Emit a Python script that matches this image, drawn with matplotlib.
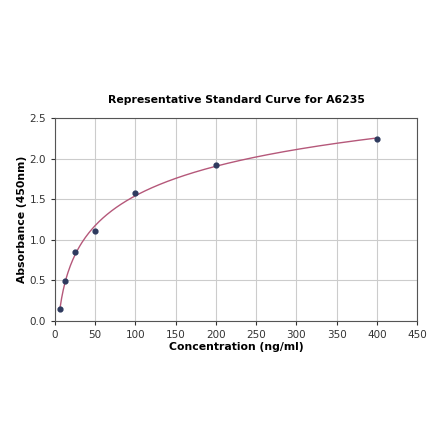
import numpy as np
import matplotlib
matplotlib.use("Agg")
import matplotlib.pyplot as plt

concentration = [6.25, 12.5, 25, 50, 100, 200, 400]
absorbance = [0.148, 0.496, 0.846, 1.108, 1.573, 1.925, 2.245]

title = "Representative Standard Curve for A6235"
xlabel = "Concentration (ng/ml)"
ylabel = "Absorbance (450nm)"

x = np.array(concentration, float)
y = np.array(absorbance, float)

def f4(p, xx):
    a, b, c, d = p
    return d + (a - d) / (1.0 + (xx / c) ** b)

# Levenberg-Marquardt fit of a 4PL curve
p = np.array([0.0, 1.0, 80.0, 3.0])
lam = 1e-2
def resid(p):
    return f4(p, x) - y
for _ in range(2000):
    r = resid(p)
    J = np.zeros((len(x), 4))
    for k in range(4):
        dp = np.zeros(4); h = 1e-6 * max(1.0, abs(p[k])); dp[k] = h
        J[:, k] = (resid(p + dp) - r) / h
    A = J.T @ J
    g = J.T @ r
    step = np.linalg.solve(A + lam * np.diag(np.diag(A) + 1e-12), -g)
    pn = p + step
    if pn[2] > 0 and np.sum(resid(pn) ** 2) < np.sum(r ** 2):
        p = pn; lam *= 0.5
    else:
        lam *= 3
xs = np.linspace(x.min(), x.max(), 400)
ys = f4(p, xs)

fig = plt.figure(figsize=(4.4, 4.41), dpi=100)
ax = fig.add_axes([0.125, 0.272, 0.823, 0.460])
ax.plot(xs, ys, color="#b5587a", lw=1.0, zorder=2)
ax.scatter(x, y, s=12, color="#2e3a5e", zorder=3)
ax.set_xlim(0, 450)
ax.set_ylim(0, 2.5)
ax.set_xticks(np.arange(0, 451, 50))
ax.set_yticks(np.arange(0, 2.51, 0.5))
ax.grid(True, color="#cccccc", lw=0.8)
ax.set_axisbelow(True)
ax.tick_params(labelsize=7.5, colors="#333333", length=3)
for s in ax.spines.values():
    s.set_color("#555555")
ax.set_title(title, fontsize=7.8, fontweight="bold", pad=11)
ax.set_xlabel(xlabel, fontsize=7.8, fontweight="bold", labelpad=1.5)
ax.set_ylabel(ylabel, fontsize=7.8, fontweight="bold", labelpad=1.5)
fig.savefig("out.png", dpi=100)
